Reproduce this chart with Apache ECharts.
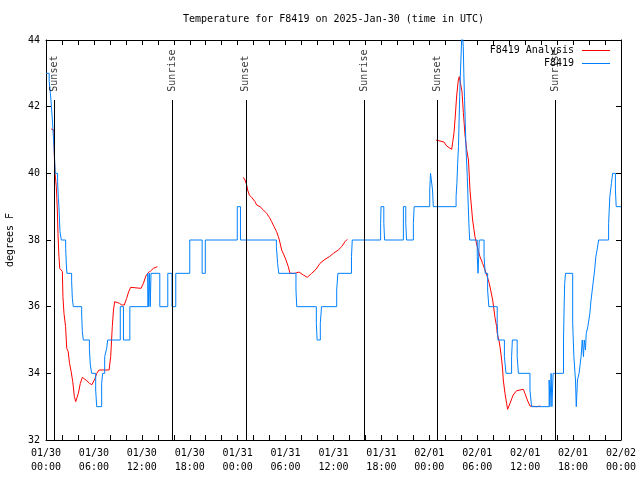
<!DOCTYPE html>
<html><head><meta charset="utf-8">
<script src="https://cdn.jsdelivr.net/npm/echarts@6/dist/echarts.min.js"></script>
<style>html,body{margin:0;padding:0;background:#fff}#c{width:640px;height:480px}</style>
</head><body><div id="c"></div><script>
const titleText = 'Temperature for F8419 on 2025-Jan-30 (time in UTC)';
const yAxisName = 'degrees F';
const seriesNames = ['F8419 Analysis', 'F8419'];
const xTickLabels = ['01/30\n00:00','01/30\n06:00','01/30\n12:00','01/30\n18:00','01/31\n00:00','01/31\n06:00','01/31\n12:00','01/31\n18:00','02/01\n00:00','02/01\n06:00','02/01\n12:00','02/01\n18:00','02/02\n00:00'];
const yTickLabels = ['32','34','36','38','40','42','44'];
const sunEventHours = [1.03, 15.82, 25.03, 39.84, 49.0, 63.8];
const sunEventNames = ['Sunset','Sunrise','Sunset','Sunrise','Sunset','Sunrise'];

// hours since 01/30 00:00 UTC, degrees F
const analysisSeg1 = [[0.65,41.33],[0.98,41.3],[1.05,40.5],[1.13,40.0],[1.29,39.6],[1.42,38.9],[1.5,38.2],[1.62,37.5],[1.72,37.15],[2.05,37.05],[2.12,36.3],[2.25,35.8],[2.45,35.4],[2.6,34.75],[2.78,34.65],[2.95,34.3],[3.15,34.05],[3.35,33.75],[3.55,33.3],[3.72,33.15],[3.85,33.15],[4.05,33.4],[4.3,33.7],[4.55,33.88],[4.8,33.85],[5.1,33.78],[5.45,33.7],[5.75,33.66],[5.95,33.72],[6.15,33.85],[6.35,34.0],[6.65,34.1],[7.9,34.1],[8.1,34.5],[8.3,35.4],[8.45,35.9],[8.6,36.15],[8.85,36.15],[9.2,36.1],[9.5,36.05],[9.8,36.05],[10.1,36.25],[10.35,36.45],[10.6,36.58],[11.9,36.55],[12.2,36.7],[12.5,36.92],[12.8,37.02],[13.1,37.07],[13.45,37.15],[13.95,37.2]];
const analysisSeg2 = [[24.71,39.88],[24.92,39.8],[25.13,39.65],[25.25,39.5],[25.46,39.35],[25.75,39.28],[26.17,39.15],[26.38,39.05],[26.8,39.0],[27.22,38.9],[27.63,38.8],[27.97,38.68],[28.26,38.55],[28.55,38.4],[28.88,38.25],[29.09,38.1],[29.22,38.0],[29.51,37.7],[29.8,37.55],[30.05,37.4],[30.34,37.2],[30.55,37.0],[30.76,36.98],[31.18,37.0],[31.68,37.04],[32.22,36.95],[32.72,36.88],[33.26,37.0],[33.81,37.12],[34.31,37.3],[34.93,37.42],[35.48,37.5],[35.98,37.6],[36.6,37.7],[37.02,37.8],[37.44,37.95],[37.73,38.02]];
const analysisSeg3 = [[48.83,41.0],[49.33,40.97],[49.83,40.94],[50.17,40.82],[50.8,40.72],[50.92,40.92],[51.09,41.22],[51.25,41.72],[51.42,42.32],[51.63,42.8],[51.75,42.9],[51.92,42.9],[52.09,42.45],[52.26,41.82],[52.47,41.15],[52.67,40.72],[52.9,40.4],[53.09,39.5],[53.42,38.6],[53.71,38.1],[54.0,37.8],[54.34,37.5],[54.67,37.3],[54.97,37.1],[55.26,36.9],[55.5,36.7],[55.68,36.5],[55.93,36.2],[56.1,35.9],[56.2,35.7],[56.43,35.4],[56.5,35.2],[56.7,35.0],[56.85,34.8],[57.06,34.4],[57.18,34.1],[57.26,33.8],[57.47,33.4],[57.68,33.1],[57.8,32.92],[58.1,33.1],[58.5,33.35],[58.93,33.48],[59.35,33.5],[59.77,33.52],[59.97,33.4],[60.27,33.2],[60.6,33.02],[60.8,32.98],[61.43,33.0],[61.6,33.03],[61.9,33.02]];

// observations: [hour the level starts, degrees F]
const observed = [[0,43.0],[0.4,42.75],[0.55,42.4],[0.68,42.0],[0.8,41.6],[0.9,41.2],[1.0,40.8],[1.08,40.4],[1.15,40.0],[1.45,39.75],[1.55,39.25],[1.62,39.0],[1.75,38.25],[1.92,38.0],[2.46,37.75],[2.55,37.25],[2.62,37.0],[3.21,36.75],[3.3,36.25],[3.42,36.0],[4.47,35.75],[4.55,35.25],[4.67,35.0],[5.43,34.75],[5.55,34.25],[5.72,34.0],[6.22,33.5],[6.35,33.0],[6.97,33.7],[7.09,34.0],[7.35,34.5],[7.6,34.75],[7.72,35.0],[9.3,36.0],[9.7,35.0],[10.5,36.0],[12.75,37.0],[12.85,36.0],[12.95,37.0],[13.05,36.0],[13.15,37.0],[14.25,36.0],[15.25,37.0],[15.78,36.0],[16.25,37.0],[18.0,38.0],[19.55,37.0],[19.95,38.0],[23.95,39.0],[24.35,38.0],[28.85,37.8],[29.0,37.3],[29.15,37.0],[31.3,36.5],[31.4,36.0],[33.85,35.5],[33.95,35.0],[34.35,35.5],[34.5,36.0],[36.4,36.5],[36.55,37.0],[38.25,37.5],[38.35,38.0],[41.9,38.5],[41.95,39.0],[42.3,38.5],[42.4,38.0],[44.75,39.0],[45.05,38.5],[45.15,38.0],[46.0,38.5],[46.1,39.0],[48.05,39.5],[48.15,40.0],[48.4,39.5],[48.5,39.0],[51.35,39.3],[51.45,39.7],[51.55,40.3],[51.65,40.8],[51.72,41.5],[51.8,42.3],[51.88,42.9],[51.95,43.4],[52.05,44.0],[52.12,44.3],[52.25,43.8],[52.32,43.0],[52.4,42.3],[52.5,41.5],[52.6,40.7],[52.75,39.9],[52.85,39.2],[52.95,38.5],[53.05,38.0],[54.0,37.5],[54.1,37.0],[54.25,38.0],[54.85,37.5],[55.0,37.0],[55.3,36.5],[55.45,36.0],[56.5,35.5],[56.6,35.0],[57.4,34.5],[57.6,34.0],[58.3,34.5],[58.4,35.0],[59.0,34.5],[59.15,34.0],[60.6,33.5],[60.8,33.0],[63.0,33.8],[63.1,33.0],[63.25,34.0],[63.35,33.0],[63.5,34.0],[64.8,35.0],[64.88,36.0],[64.95,36.7],[65.05,37.0],[65.95,35.5],[66.1,34.5],[66.3,33.8],[66.4,33.0],[66.55,33.8],[66.75,34.0],[67.0,34.5],[67.15,35.0],[67.3,34.5],[67.4,35.0],[67.55,34.7],[67.65,35.2],[67.85,35.4],[68.1,35.8],[68.25,36.2],[68.4,36.5],[68.55,36.8],[68.7,37.1],[68.85,37.5],[69.0,37.7],[69.2,38.0],[70.45,38.5],[70.6,39.3],[70.8,39.7],[70.95,40.0],[71.3,39.5],[71.4,39.0],[72.0,39.0]];

const FONT = '"DejaVu Sans Mono", "Liberation Mono", monospace';
const RED = '#ff0000', BLUE = '#0080ff';
const chart = echarts.init(document.getElementById('c'), null, {renderer:'canvas'});
const axisCommon = {
  axisLine:{show:true, onZero:false, lineStyle:{color:'#000', width:1}},
  axisTick:{show:true, inside:true, length:5, lineStyle:{color:'#000', width:1}},
  splitLine:{show:false}
};
const redSeries = [analysisSeg1, analysisSeg2, analysisSeg3].map(seg => ({
  type:'line', name: seriesNames[0], data: seg, showSymbol:false, symbol:'none',
  lineStyle:{color:RED, width:1}, z: 3, silent:true
}));
const option = {
  animation:false,
  textStyle:{fontFamily:FONT},
  grid:{left:46, right:19, top:40, bottom:40, containLabel:false, outerBoundsMode:'none'},
  xAxis:[
    Object.assign({type:'value', min:0, max:72, interval:2, position:'bottom',
      axisLabel:{color:'#000', fontSize:10, fontFamily:FONT, lineHeight:14, margin:6,
        formatter: v => { const r = Math.round(v); return r % 6 === 0 ? xTickLabels[r/6] : ''; }}}, axisCommon),
    Object.assign({type:'value', min:0, max:72, interval:2, position:'top', axisLabel:{show:false}}, axisCommon)
  ],
  yAxis:[
    Object.assign({type:'value', min:32, max:44, interval:2, position:'left',
      name: yAxisName, nameLocation:'middle', nameGap:31, nameRotate:90,
      nameTextStyle:{color:'#000', fontSize:10, fontFamily:FONT},
      axisLabel:{color:'#000', fontSize:10, fontFamily:FONT, margin:6,
        formatter: v => yTickLabels[Math.round((v-32)/2)]}}, axisCommon),
    Object.assign({type:'value', min:32, max:44, interval:2, position:'right', axisLabel:{show:false}}, axisCommon)
  ],
  graphic:[
    {type:'text', x:333.5, y:19, style:{text:titleText, textAlign:'center', textVerticalAlign:'middle', font:'10px ' + FONT, fill:'#000'}},
    {type:'text', x:574, y:50, style:{text:seriesNames[0], textAlign:'right', textVerticalAlign:'middle', font:'10px ' + FONT, fill:'#000'}, z:100},
    {type:'line', shape:{x1:582, y1:50.5, x2:610, y2:50.5}, style:{stroke:RED, lineWidth:1}, z:100},
    {type:'text', x:574, y:63, style:{text:seriesNames[1], textAlign:'right', textVerticalAlign:'middle', font:'10px ' + FONT, fill:'#000'}, z:100},
    {type:'line', shape:{x1:582, y1:63.5, x2:610, y2:63.5}, style:{stroke:BLUE, lineWidth:1}, z:100}
  ],
  series: redSeries.concat([
    {type:'line', name: seriesNames[1], data: observed, step:'end', showSymbol:false, symbol:'none',
      lineStyle:{color:BLUE, width:1}, z:4, silent:true},
    {type:'scatter', name:'sun', symbolSize:0, silent:true, z:5,
      data: sunEventHours.map((h, i) => ({value:[h, 42.45], name: sunEventNames[i]})),
      label:{show:true, formatter:'{b}', rotate:90, position:'inside', align:'left', verticalAlign:'middle',
        color:'#000', fontSize:10, fontFamily:FONT},
      markLine:{silent:true, symbol:['none','none'], label:{show:false},
        lineStyle:{color:'#000', width:1, type:'solid'},
        data: sunEventHours.map(h => [{coord:[h, 32]}, {coord:[h, 42.2]}])}
    }
  ])
};
chart.setOption(option);
</script></body></html>
